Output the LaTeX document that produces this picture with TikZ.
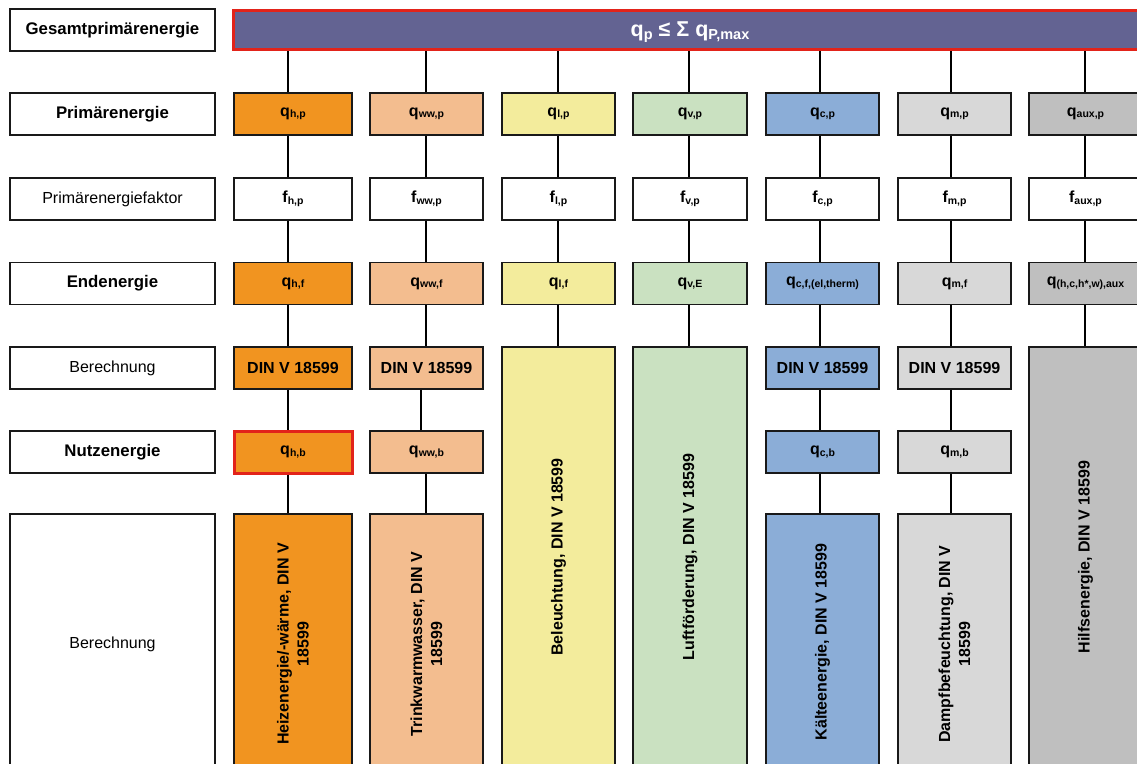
\documentclass[tikz,border=0pt]{standalone}
\usepackage{fontspec}
\setmainfont{Liberation Sans}
\definecolor{topc}{RGB}{99,99,146}
\definecolor{redc}{RGB}{226,35,26}
\definecolor{heatc}{RGB}{241,148,32}
\definecolor{wwc}{RGB}{243,189,143}
\definecolor{lightc}{RGB}{243,236,156}
\definecolor{ventc}{RGB}{202,225,193}
\definecolor{coolc}{RGB}{139,173,215}
\definecolor{moistc}{RGB}{216,216,216}
\definecolor{auxc}{RGB}{191,191,191}
\newcommand\qsub[2]{#1{\fontsize{10.5}{12}\selectfont\raisebox{-1.5pt}{#2}}}
\begin{document}
\begin{tikzpicture}[x=1pt,y=-1pt,
  box/.style={draw=black!90, line width=1.3pt, minimum height=42pt, inner sep=0pt,
    font=\fontsize{16}{19}\selectfont\bfseries},
  lab/.style={box, minimum width=205pt, fill=white, font=\fontsize{16.8}{19}\selectfont\bfseries},
  labn/.style={lab, font=\fontsize{16}{19}\selectfont},
  w1/.style={box, minimum width=118pt},
  w2/.style={box, minimum width=113pt},
  w4/.style={box, minimum width=114pt},
  tall/.style={minimum height=260pt},
  huge/.style={minimum height=427pt},
  redb/.style={draw=redc, line width=3pt},
  conn/.style={line width=2pt},
  rot/.style={rotate=90, align=center, inner sep=0pt, font=\fontsize{16}{20}\selectfont\bfseries}]
\useasboundingbox (0,0) rectangle (1137,763);
% left labels
\node[lab] (l0) at (112.5,30) {Gesamtprimärenergie};
\node[lab] (l1) at (112.5,114) {Primärenergie};
\node[labn] (l2) at (112.5,199) {Primärenergiefaktor};
\node[lab] (l3) at (112.5,283.5) {Endenergie};
\node[labn] (l4) at (112.5,368) {Berechnung};
\node[lab] (l5) at (112.5,452) {Nutzenergie};
\node[labn, tall] (l6) at (112.5,644) {Berechnung};
% top bar
\node[box, redb, fill=topc, minimum width=917pt, minimum height=39pt] (top) at (691.5,30) {};
\node[text=white, font=\fontsize{21.5}{24}\selectfont\bfseries] (toptext) at (690,32)
  {q{\fontsize{14.5}{15}\selectfont\raisebox{-2.5pt}{p}} ≤ Σ q{\fontsize{14.5}{15}\selectfont\raisebox{-2.5pt}{P,max}}};
% row 1: Primärenergie
\node[w1, fill=heatc] (p1) at (293,114) {\qsub{q}{h,p}};
\node[w2, fill=wwc] (p2) at (426.5,114) {\qsub{q}{ww,p}};
\node[w2, fill=lightc] (p3) at (558.5,114) {\qsub{q}{l,p}};
\node[w4, fill=ventc] (p4) at (690,114) {\qsub{q}{v,p}};
\node[w2, fill=coolc] (p5) at (822.5,114) {\qsub{q}{c,p}};
\node[w2, fill=moistc] (p6) at (954.5,114) {\qsub{q}{m,p}};
\node[w2, fill=auxc] (p7) at (1085.5,114) {\qsub{q}{aux,p}};
% row 2: Primärenergiefaktor
\node[w1, fill=white] (f1) at (293,199) {\qsub{f}{h,p}};
\node[w2, fill=white] (f2) at (426.5,199) {\qsub{f}{ww,p}};
\node[w2, fill=white] (f3) at (558.5,199) {\qsub{f}{l,p}};
\node[w4, fill=white] (f4) at (690,199) {\qsub{f}{v,p}};
\node[w2, fill=white] (f5) at (822.5,199) {\qsub{f}{c,p}};
\node[w2, fill=white] (f6) at (954.5,199) {\qsub{f}{m,p}};
\node[w2, fill=white] (f7) at (1085.5,199) {\qsub{f}{aux,p}};
% row 3: Endenergie
\node[w1, fill=heatc] (e1) at (293,283.5) {\qsub{q}{h,f}};
\node[w2, fill=wwc] (e2) at (426.5,283.5) {\qsub{q}{ww,f}};
\node[w2, fill=lightc] (e3) at (558.5,283.5) {\qsub{q}{l,f}};
\node[w4, fill=ventc] (e4) at (690,283.5) {\qsub{q}{v,E}};
\node[w2, fill=coolc] (e5) at (822.5,283.5) {\qsub{q}{c,f,(el,therm)}};
\node[w2, fill=moistc] (e6) at (954.5,283.5) {\qsub{q}{m,f}};
\node[w2, fill=auxc] (e7) at (1085.5,283.5) {\qsub{q}{(h,c,h*,w),aux}};
% row 4: Berechnung
\node[w1, fill=heatc] (d1) at (293,368) {DIN V 18599};
\node[w2, fill=wwc] (d2) at (426.5,368) {DIN V 18599};
\node[w2, fill=coolc] (d5) at (822.5,368) {DIN V 18599};
\node[w2, fill=moistc] (d6) at (954.5,368) {DIN V 18599};
% row 5: Nutzenergie
\node[w1, redb, fill=heatc] (n1) at (293,452) {\qsub{q}{h,b}};
\node[w2, fill=wwc] (n2) at (426.5,452) {\qsub{q}{ww,b}};
\node[w2, fill=coolc] (n5) at (822.5,452) {\qsub{q}{c,b}};
\node[w2, fill=moistc] (n6) at (954.5,452) {\qsub{q}{m,b}};
% bottom boxes
\node[w1, tall, fill=heatc] (b1) at (293,644) {};
\node[w2, tall, fill=wwc] (b2) at (426.5,644) {};
\node[w2, huge, fill=lightc] (b3) at (558.5,560.5) {};
\node[w4, huge, fill=ventc] (b4) at (690,560.5) {};
\node[w2, tall, fill=coolc] (b5) at (822.5,644) {};
\node[w2, tall, fill=moistc] (b6) at (954.5,644) {};
\node[w2, huge, fill=auxc] (b7) at (1085.5,560.5) {};
\node[rot] (t1) at (293,644) {Heizenergie/-wärme, DIN V\\18599};
\node[rot] (t2) at (426.5,644) {Trinkwarmwasser, DIN V\\18599};
\node[rot] (t3) at (558.5,557) {Beleuchtung, DIN V 18599};
\node[rot] (t4) at (690,557) {Luftförderung, DIN V 18599};
\node[rot] (t5) at (822.5,642) {Kälteenergie, DIN V 18599};
\node[rot] (t6) at (954.5,644) {Dampfbefeuchtung, DIN V\\18599};
\node[rot] (t7) at (1085.5,557) {Hilfsenergie, DIN V 18599};
% connectors
\foreach \c/\s in {1/-5,2/-0.5,3/-0.5,4/-1,5/-2.5,6/-3.5,7/-0.5}{
  \draw[conn] ([xshift=\s pt]p\c.north) -- ([xshift=\s pt]p\c.north |- top.south);
  \draw[conn] ([xshift=\s pt]p\c.south) -- ([xshift=\s pt]f\c.north);
  \draw[conn] ([xshift=\s pt]f\c.south) -- ([xshift=\s pt]e\c.north);
}
\foreach \c/\s in {1/-5,2/-0.5,5/-2.5,6/-3.5}{
  \draw[conn] ([xshift=\s pt]e\c.south) -- ([xshift=\s pt]d\c.north);
  \draw[conn] ([xshift=\s pt]n\c.south) -- ([xshift=\s pt]b\c.north);
}
\foreach \c/\s in {1/-5,5/-2.5,6/-3.5}{
  \draw[conn] ([xshift=\s pt]d\c.south) -- ([xshift=\s pt]n\c.north);
}
\draw[conn] ([xshift=-5.5pt]d2.south) -- ([xshift=-5.5pt]n2.north);
\foreach \c/\s in {3/-0.5,4/-1,7/-0.5}{
  \draw[conn] ([xshift=\s pt]e\c.south) -- ([xshift=\s pt]b\c.north);
}
\end{tikzpicture}
\end{document}
